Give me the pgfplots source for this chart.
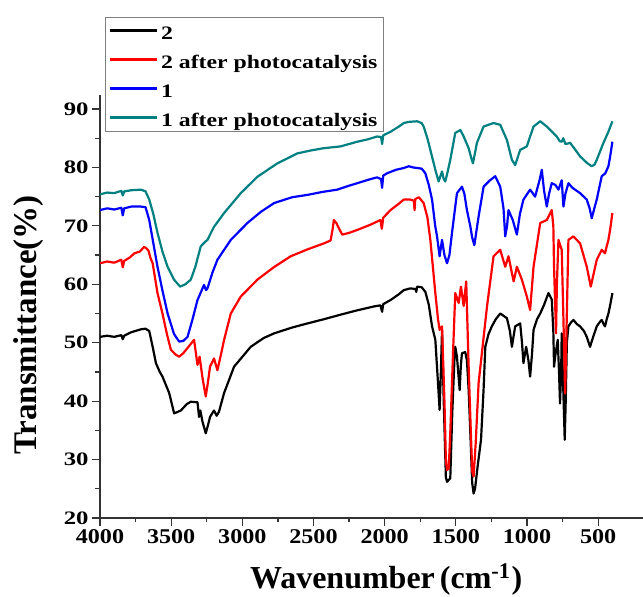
\documentclass[border=0pt]{standalone}
\usepackage{fontspec}
\setmainfont{Liberation Serif}
\usepackage{pgfplots}
\pgfplotsset{compat=1.18}
\definecolor{tealc}{RGB}{0,128,128}
\definecolor{redc}{RGB}{255,0,0}
\definecolor{bluec}{RGB}{0,0,255}
\pgfplotstableread{
w v
4000 51.0
3950 51.2
3900 51.0
3850 51.3
3840 50.6
3830 51.2
3780 51.8
3712 52.3
3680 52.4
3654 52.0
3630 49.3
3607 46.5
3580 45.0
3561 44.2
3514 41.4
3479 37.9
3432 38.4
3390 39.5
3362 39.9
3315 39.8
3304 37.3
3295 38.4
3280 36.5
3257 34.5
3240 36.0
3227 37.3
3199 38.4
3180 37.5
3164 38.2
3128 41.4
3058 45.9
2941 49.3
2850 50.8
2777 51.6
2650 52.6
2543 53.3
2430 54.0
2310 54.8
2200 55.5
2077 56.2
2030 56.4
2018 55.3
2010 56.6
1959 57.3
1900 58.3
1866 59.0
1820 59.3
1784 59.2
1778 58.7
1772 59.6
1740 59.5
1714 58.7
1690 56.5
1667 52.8
1644 50.5
1628 44.2
1614 38.5
1605 45.0
1597 52.2
1585 40.0
1570 27.0
1562 26.2
1539 26.8
1525 38.0
1510 47.0
1504 49.3
1492 47.6
1473 41.9
1465 46.0
1457 48.2
1434 48.4
1422 47.0
1410 42.0
1398 34.5
1385 26.0
1375 24.2
1365 25.0
1347 28.8
1323 33.4
1305 42.0
1293 49.3
1270 51.5
1247 52.8
1220 54.0
1188 55.0
1141 54.2
1120 52.0
1106 49.3
1095 51.0
1083 52.8
1048 53.3
1035 50.0
1025 46.5
1006 49.3
990 47.0
978 44.2
965 48.0
954 52.2
930 54.0
907 55.0
880 56.5
849 58.5
826 57.4
815 52.0
810 45.9
800 48.0
784 50.5
775 45.0
768 39.6
760 45.0
756 51.6
745 42.0
735 33.4
728 40.0
720 50.0
709 52.8
690 53.5
674 53.9
650 53.2
627 52.8
600 52.0
580 51.0
557 49.3
535 51.0
510 52.8
490 53.5
475 53.9
462 53.2
452 52.8
440 54.0
428 55.0
415 56.5
400 58.5
}\tabA
\pgfplotstableread{
w v
4000 63.6
3950 63.9
3900 63.7
3850 64.2
3840 62.9
3830 64.0
3790 64.6
3759 65.3
3720 65.6
3690 66.4
3677 66.2
3660 65.8
3645 64.5
3630 63.6
3596 58.5
3561 55.0
3530 51.5
3502 48.8
3470 48.0
3444 47.6
3415 48.2
3385 49.1
3339 50.5
3325 48.0
3315 46.2
3300 47.6
3280 44.0
3257 40.8
3240 43.5
3227 45.9
3199 47.3
3175 45.3
3150 48.0
3128 50.5
3081 55.0
3011 57.9
2894 60.8
2780 62.9
2660 64.8
2540 66.0
2427 67.0
2380 67.5
2365 69.5
2357 71.0
2340 70.5
2322 69.6
2298 68.5
2250 68.8
2193 69.3
2100 70.2
2030 71.0
2020 69.5
2010 71.4
1959 72.7
1900 73.8
1866 74.5
1820 74.5
1795 74.3
1790 72.7
1785 74.6
1760 74.9
1726 73.9
1700 71.5
1679 67.6
1644 58.5
1625 54.0
1614 52.2
1597 52.8
1580 40.0
1570 30.0
1562 28.2
1550 28.5
1539 34.5
1520 48.0
1504 58.5
1480 56.8
1464 59.6
1445 56.3
1427 60.5
1410 45.9
1395 35.0
1385 28.0
1375 27.1
1360 33.0
1340 43.1
1317 48.2
1281 56.2
1235 64.8
1188 65.9
1153 63.0
1130 64.8
1094 60.5
1071 63.0
1036 60.8
1001 57.9
978 55.6
954 63.0
907 70.5
861 71.0
826 72.7
815 70.0
810 63.0
796 51.6
790 60.0
779 67.6
756 65.9
745 55.0
732 41.3
720 55.0
709 67.6
674 68.2
627 67.0
580 63.0
552 59.6
530 62.0
510 64.2
475 65.9
452 65.3
440 66.5
428 67.6
415 69.5
400 72.2
}\tabB
\pgfplotstableread{
w v
4000 72.7
3950 73.0
3900 72.8
3850 73.1
3840 71.8
3830 73.0
3780 73.3
3712 73.3
3680 73.2
3654 71.0
3596 63.0
3560 58.8
3525 55.0
3480 51.5
3444 50.2
3415 50.3
3385 51.0
3350 54.0
3315 57.3
3269 59.9
3255 59.0
3245 59.3
3210 62.0
3175 64.2
3081 67.6
2964 70.5
2870 72.4
2777 73.9
2650 74.9
2543 75.3
2440 75.8
2333 76.2
2260 76.8
2193 77.3
2100 78.0
2053 78.3
2025 78.0
2018 76.5
2010 78.6
1983 79.0
1920 79.6
1866 79.9
1830 80.2
1800 80.0
1772 79.9
1740 79.8
1714 79.0
1690 77.0
1667 74.5
1645 70.0
1632 68.2
1614 64.8
1597 67.6
1580 65.0
1562 63.6
1545 65.0
1527 68.8
1492 75.6
1457 76.7
1440 75.5
1422 72.7
1398 69.9
1385 68.0
1370 66.7
1340 71.6
1305 76.7
1260 77.8
1223 78.5
1188 76.7
1165 73.0
1153 68.2
1140 70.0
1130 72.7
1100 71.0
1071 68.5
1050 72.0
1025 74.5
978 76.2
943 75.0
910 78.0
896 79.6
880 76.0
861 73.3
845 75.5
826 77.3
800 77.0
779 76.2
756 77.8
744 73.3
730 75.5
709 77.3
680 76.5
627 75.6
580 74.5
560 73.0
545 71.3
527 73.0
510 74.5
475 78.5
450 79.0
428 80.2
415 82.0
400 84.4
}\tabC
\pgfplotstableread{
w v
4000 75.4
3950 75.7
3900 75.6
3850 76.0
3840 75.2
3830 75.9
3780 76.1
3712 76.2
3680 75.9
3654 74.5
3625 72.0
3596 68.8
3560 65.5
3525 63.0
3480 60.8
3437 59.6
3400 60.0
3362 60.8
3330 63.0
3292 66.5
3260 67.3
3245 67.6
3200 69.8
3128 72.2
3011 75.6
2894 78.4
2754 80.7
2614 82.4
2520 82.9
2427 83.3
2310 83.6
2193 84.4
2120 84.8
2053 85.3
2025 85.2
2018 84.0
2010 85.5
1959 86.1
1900 87.0
1866 87.6
1830 87.8
1772 87.9
1740 87.6
1726 87.0
1700 85.0
1679 83.0
1644 79.6
1621 77.6
1597 79.3
1585 78.0
1574 77.6
1560 79.0
1539 81.3
1504 85.9
1468 86.4
1445 85.3
1410 83.3
1390 81.5
1380 80.7
1365 82.5
1352 84.2
1305 87.0
1235 87.6
1188 87.3
1141 84.7
1106 81.3
1083 80.4
1048 83.0
1001 83.6
975 85.5
954 87.0
907 87.9
861 87.0
820 86.0
791 85.3
770 84.5
756 84.4
745 85.0
730 84.0
697 84.2
660 83.0
627 81.9
580 80.8
545 80.2
525 80.5
510 81.3
463 84.2
430 86.0
400 87.9
}\tabD
\begin{document}
\begin{tikzpicture}
\begin{axis}[
  scale only axis, width=543pt, height=423pt,
  x dir=reverse, xmin=185, xmax=4000, ymin=20, ymax=92.4,
  axis x line=bottom, axis y line=left,
  axis line style={-, line width=1.2pt, black!80},
  xtick={500,1000,...,4000}, ytick={20,30,...,90},
  minor x tick num=1, minor y tick num=1,
  tick align=outside, major tick length=8pt, minor tick length=4.5pt,
  every tick/.style={black!80, line width=1.2pt},
  /pgf/number format/assume math mode=true,
  /pgf/number format/set thousands separator={},
  xticklabel={\scalebox{1.15}[1]{\pgfmathprintnumber{\tick}}},
  yticklabel={\scalebox{1.3}[1]{\pgfmathprintnumber{\tick}}},
  xticklabel style={font=\fontsize{21}{21}\selectfont\bfseries},
  yticklabel style={font=\fontsize{19}{19}\selectfont\bfseries},
  xlabel={Wavenumber\hspace{5pt}(cm\textsuperscript{-1}\hspace{1pt})},
  ylabel={Transmittance(\%)},
  xlabel style={font=\fontsize{32}{32}\selectfont\bfseries, at={(axis description cs:0.527,-0.1655)}, anchor=base},
  ylabel style={font=\fontsize{33}{33}\selectfont\bfseries, at={(axis description cs:-0.131,0.456)}, anchor=center},
  legend cell align=left,
  legend style={at={(axis description cs:0.009,1.185)}, anchor=north west,
    draw=gray, line width=0.8pt, fill=white,
    font=\fontsize{19}{19}\selectfont\bfseries,
    nodes={text height=17pt, text depth=0pt, inner sep=3pt},
    row sep=6pt, inner xsep=3pt, inner ysep=2pt},
  legend image code/.code={\draw[#1, line width=2.8pt] (0pt,0pt) -- (47pt,0pt);},
  every axis plot/.append style={line width=2.2pt, line join=round},
]
\addplot[black, no marks] table[x=w,y=v] {\tabA};
\addlegendentry{\scalebox{1.25}[1]{2}}
\addplot[redc, no marks] table[x=w,y=v] {\tabB};
\addlegendentry{\scalebox{1.25}[1]{2 after photocatalysis}}
\addplot[bluec, no marks] table[x=w,y=v] {\tabC};
\addlegendentry{\scalebox{1.25}[1]{1}}
\addplot[tealc, no marks] table[x=w,y=v] {\tabD};
\addlegendentry{\scalebox{1.25}[1]{1 after photocatalysis}}
\end{axis}
\pgfresetboundingbox
\path (current axis.south west) ++(-100pt,-79pt) rectangle ++(643pt,597pt);
\end{tikzpicture}
\end{document}
